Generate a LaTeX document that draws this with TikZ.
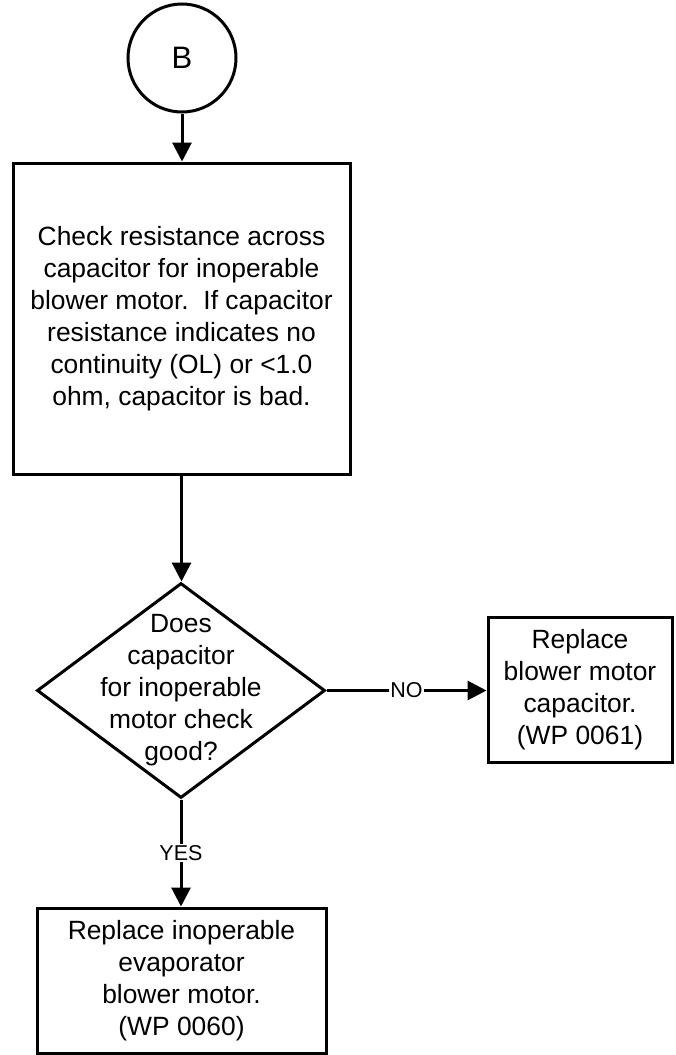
\documentclass[tikz,border=0pt]{standalone}
\usepackage{fontspec}
\setmainfont{Liberation Sans}
\usetikzlibrary{shapes.geometric,arrows.meta}
\begin{document}
\begin{tikzpicture}[x=1pt,y=-1pt,
  every node/.style={inner sep=0pt},
  bodytext/.style={align=center,font=\fontsize{26.4pt}{32pt}\selectfont},
  boxnode/.style={draw,line width=3pt,rectangle},
  flow/.style={line width=3pt,-{Triangle[length=19pt,width=19pt]}},
  tag/.style={fill=white,inner sep=1pt,font=\fontsize{21.5pt}{23pt}\selectfont}
]
\useasboundingbox (0,0) rectangle (675,1055);

% start connector
\node[draw,circle,line width=3pt,minimum size=108pt,
      font=\fontsize{31pt}{33pt}\selectfont] (start) at (182,58) {B};

% resistance check step
\node[boxnode,minimum width=337pt,minimum height=311pt] (check) at (181.5,318.5) {};
\node[bodytext] (checktext) at (check.center) {Check resistance across\\capacitor for inoperable\\blower motor.\ \ If capacitor\\resistance indicates no\\continuity (OL) or <1.0\\ohm, capacitor is bad.};

% decision
\node[draw,diamond,line width=3pt,minimum width=288pt,minimum height=215pt] (decide) at (181,690.5) {};
\node[bodytext] (decidetext) at (decide.center) {Does\\capacitor\\for inoperable\\motor check\\good?};

% outcomes
\node[boxnode,minimum width=184pt,minimum height=145pt] (capbox) at (580,689.5) {};
\node[bodytext] (captext) at (capbox.center) {Replace\\blower motor\\capacitor.\\(WP 0061)};

\node[boxnode,minimum width=289pt,minimum height=145pt] (motorbox) at (181.5,980.5) {};
\node[bodytext] (motortext) at (motorbox.center) {Replace inoperable\\evaporator\\blower motor.\\(WP 0060)};

% connectors
\draw[flow] (start.south) -- (start.south |- check.north);
\draw[flow] (check.south) -- (check.south |- decide.north);
\draw[flow] (decide.east) -- (capbox.west |- decide.east)
  node[tag,midway] (notag) {NO};
\draw[flow] (decide.south) -- (decide.south |- motorbox.north)
  node[tag,midway] (yestag) {YES};
\end{tikzpicture}
\end{document}
